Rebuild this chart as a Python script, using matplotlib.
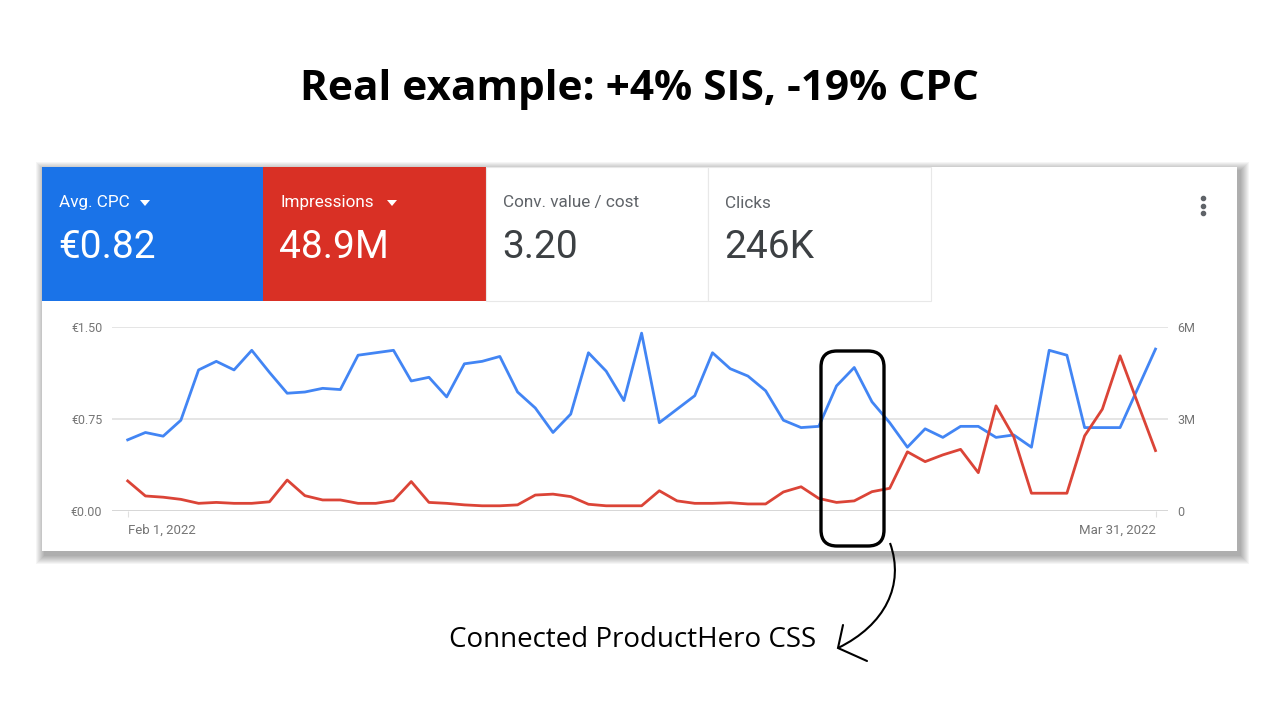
import matplotlib.pyplot as plt
from matplotlib.patches import Rectangle, FancyBboxPatch, Polygon, PathPatch
from matplotlib.path import Path

# Daily values, Feb 1 - Mar 31 2022
avg_cpc = [0.58, 0.64, 0.61, 0.74, 1.15, 1.22, 1.15, 1.31, 1.13, 0.96,
           0.97, 1.00, 0.99, 1.27, 1.29, 1.31, 1.06, 1.09, 0.93, 1.20,
           1.22, 1.26, 0.97, 0.84, 0.64, 0.79, 1.29, 1.14, 0.90, 1.45,
           0.72, 0.83, 0.94, 1.29, 1.16, 1.10, 0.98, 0.74, 0.68, 0.69,
           1.02, 1.17, 0.89, 0.72, 0.52, 0.67, 0.60, 0.69, 0.69, 0.60,
           0.62, 0.52, 1.31, 1.27, 0.68, 0.68, 0.68, 1.00, 1.32]
impressions_m = [0.98, 0.49, 0.45, 0.38, 0.25, 0.28, 0.25, 0.25, 0.30, 1.01,
                 0.50, 0.36, 0.36, 0.25, 0.25, 0.34, 0.96, 0.28, 0.25, 0.20,
                 0.17, 0.17, 0.20, 0.52, 0.55, 0.47, 0.22, 0.17, 0.17, 0.17,
                 0.66, 0.33, 0.25, 0.25, 0.27, 0.23, 0.23, 0.62, 0.79, 0.41,
                 0.28, 0.33, 0.63, 0.74, 1.93, 1.61, 1.83, 2.01, 1.25, 3.43,
                 2.42, 0.58, 0.58, 0.58, 2.45, 3.32, 5.06, 3.51, 1.97]
days = list(range(len(avg_cpc)))

tile_labels = ["Avg. CPC", "Impressions", "Conv. value / cost", "Clicks"]
tile_values = ["€0.82", "48.9M", "3.20", "246K"]
left_ticks = [0, 0.75, 1.5]
left_ticklabels = ["€0.00", "€0.75", "€1.50"]
right_ticks = [0, 3, 6]
right_ticklabels = ["0", "3M", "6M"]
date_labels = ["Feb 1, 2022", "Mar 31, 2022"]

BLUE = "#1a73e8"
RED = "#d93025"
LINE_BLUE = "#4285f4"
LINE_RED = "#db4437"
GREY = "#757575"

fig = plt.figure(figsize=(12.8, 7.2), dpi=100)
fig.patch.set_facecolor("white")

# background axes in pixel coords
bg = fig.add_axes([0, 0, 1, 1])
bg.set_xlim(0, 1280)
bg.set_ylim(720, 0)
bg.axis("off")

bg.text(640, 89, "Real example: +4% SIS, -19% CPC", ha="center", va="center",
        fontsize=30.5, fontweight="bold", family="Open Sans", color="black")

# soft card shadow, heavier to the bottom right
for k in range(1, 10):
    bg.add_patch(Rectangle((42 + 3 - k, 167 + 4 - k), 1195 + 2 * k, 384 + 2 * k,
                           facecolor="black", alpha=0.04, edgecolor="none", zorder=1))
bg.add_patch(Rectangle((42, 167), 1195, 384, facecolor="white", edgecolor="none", zorder=2))

# metric tiles
tile_x = [42, 263, 486, 708]
tile_w = [221, 223, 222, 223]
tile_colors = [BLUE, RED, "white", "white"]
for i in range(4):
    bg.add_patch(Rectangle((tile_x[i], 167), tile_w[i], 134, facecolor=tile_colors[i],
                           edgecolor="#e8e8e8" if i >= 2 else "none", linewidth=0.8, zorder=3))
    tc = "white" if i < 2 else "#5f6368"
    vc = "white" if i < 2 else "#3c4043"
    bg.text(tile_x[i] + 17, 203, tile_labels[i], ha="left", va="center", fontsize=12.3,
            family="Roboto", color=tc, zorder=4)
    bg.text(tile_x[i] + 16, 248, tile_values[i], ha="left", va="center", fontsize=28,
            family="Roboto", color=vc, zorder=4)
# dropdown arrows
for ax_x in [145, 392]:
    bg.add_patch(Polygon([[ax_x - 5, 200], [ax_x + 5, 200], [ax_x, 206]], closed=True,
                         facecolor="white", edgecolor="none", zorder=4))
# menu dots
for dy in [198, 205.5, 213]:
    bg.plot(1203, dy, "o", color="#5f6368", markersize=3, zorder=4)

# chart axes
px_day = (1155.5 - 127.7) / 58
x0 = -(127.7 - 112) / px_day
x1 = 58 + (1168 - 1155.5) / px_day
ax = fig.add_axes([112 / 1280, (720 - 511) / 720, (1168 - 112) / 1280, 184 / 720], zorder=3)
ax.patch.set_alpha(0)
ax.set_xlim(x0, x1)
ax.set_ylim(0, 1.5)
for v in left_ticks:
    ax.axhline(v, color="#e0e0e0" if v > 0 else "#d0d0d0", linewidth=1.2, zorder=1)
ax.plot(days, avg_cpc, color=LINE_BLUE, linewidth=2, zorder=3)
ax.set_yticks(left_ticks)
ax.set_yticklabels(left_ticklabels, family="Roboto")
ax.tick_params(axis="y", length=0, pad=7, labelsize=9, labelcolor=GREY)
ax.set_xticks([0, 58])
ax.set_xticklabels([])
ax.tick_params(axis="x", length=4, color="#e0e0e0")
for s in ax.spines.values():
    s.set_visible(False)

ax2 = ax.twinx()
ax2.set_ylim(0, 6)
ax2.plot(days, impressions_m, color=LINE_RED, linewidth=2, zorder=2)
ax2.set_yticks(right_ticks)
ax2.set_yticklabels(right_ticklabels, family="Roboto")
ax2.tick_params(axis="y", length=0, pad=7, labelsize=9, labelcolor=GREY)
for s in ax2.spines.values():
    s.set_visible(False)

ax.text(0, -0.07, date_labels[0], ha="left", va="top", fontsize=9.5, color=GREY,
        family="Roboto", transform=ax.get_xaxis_transform())
ax.text(58, -0.07, date_labels[1], ha="right", va="top", fontsize=9.5, color=GREY,
        family="Roboto", transform=ax.get_xaxis_transform())

# annotation overlay
top = fig.add_axes([0, 0, 1, 1], zorder=10)
top.set_xlim(0, 1280)
top.set_ylim(720, 0)
top.axis("off")
top.add_patch(FancyBboxPatch((821, 351), 63, 195, boxstyle="round,pad=0,rounding_size=16",
                             facecolor="none", edgecolor="black", linewidth=2.4))
curve = Path([(890, 543), (905, 585), (885, 625), (838, 648)],
             [Path.MOVETO, Path.CURVE4, Path.CURVE4, Path.CURVE4])
top.add_patch(PathPatch(curve, facecolor="none", edgecolor="black", linewidth=1.5))
top.plot([843, 838, 867], [625, 648, 661], color="black", linewidth=1.5,
         solid_capstyle="round", solid_joinstyle="miter")
top.text(633, 640, "Connected ProductHero CSS", ha="center", va="center", fontsize=20,
         family="Open Sans", color="black")

fig.savefig("out.png", dpi=100)
